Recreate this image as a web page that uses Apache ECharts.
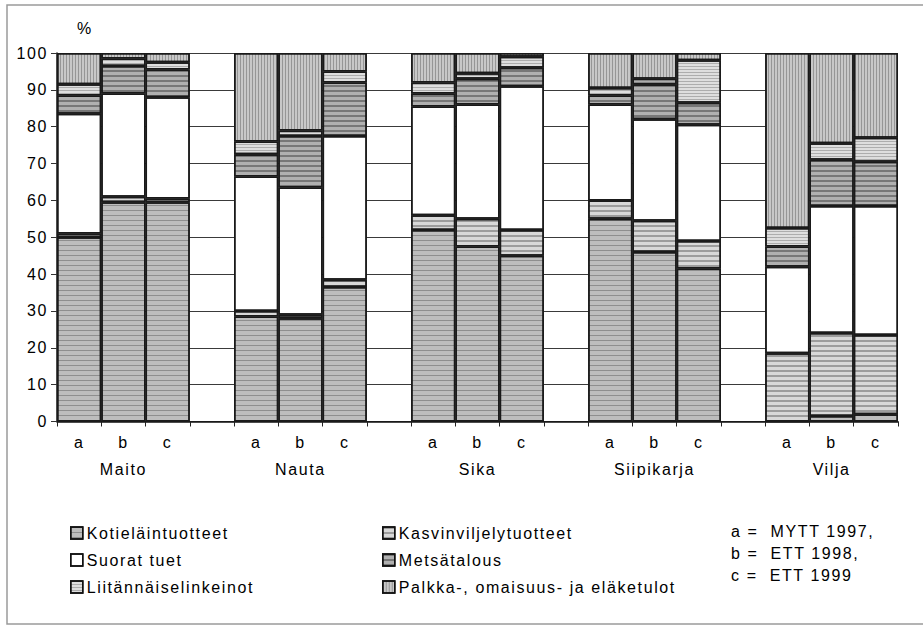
<!DOCTYPE html>
<html><head><meta charset="utf-8">
<script src="https://cdn.jsdelivr.net/npm/echarts@6/dist/echarts.min.js"></script>
<style>
html,body{margin:0;padding:0;background:#fff}
#c{width:923px;height:627px}
#c svg text{letter-spacing:1.6px}
</style></head><body><div id="c"></div>
<script>
// ---- data ----
const groups = ['Maito', 'Nauta', 'Sika', 'Siipikarja', 'Vilja'];
const subLabels = ['a', 'b', 'c'];
const yTicks = [0, 10, 20, 30, 40, 50, 60, 70, 80, 90, 100];
const seriesNames = ['Kotieläintuotteet', 'Kasvinviljelytuotteet', 'Suorat tuet', 'Metsätalous', 'Liitännäiselinkeinot', 'Palkka-, omaisuus- ja eläketulot'];
// order: Maito a,b,c | Nauta a,b,c | Sika a,b,c | Siipikarja a,b,c | Vilja a,b,c
const kotielain   = [50, 59.5, 59.5, 28.5, 28, 36.5, 52, 47.5, 45, 55, 46, 41.5, 0, 1.5, 2];
const kasvinviljely = [1, 1.5, 1, 1.5, 1, 2, 4, 7.5, 7, 5, 8.5, 7.5, 18.5, 22.5, 21.5];
const suoratTuet  = [32.5, 28, 27.5, 36.5, 34.5, 39, 29.5, 31, 39, 26, 27.5, 31.5, 23.5, 34.5, 35];
const metsatalous = [5, 7.5, 7.5, 6, 14, 14.5, 3.5, 7, 5, 2.5, 9.5, 6, 5.5, 12.5, 12];
const liitannais  = [3, 2, 2, 3.5, 1.5, 3, 3, 1.5, 3, 2, 1.5, 11.5, 5, 4.5, 6.5];
const palkka      = [8.5, 1.5, 2.5, 24, 21, 5, 8, 5.5, 1, 9.5, 7, 2, 47.5, 24.5, 23];
const keyLines = ['a =  MYTT 1997,', 'b =  ETT 1998,', 'c =  ETT 1999'];

// ---- build slots (3 bars + 1 empty slot per group) ----
const slotLabels = [], groupSlotLabels = [];
groups.forEach((g, gi) => {
  subLabels.forEach((s, k) => { slotLabels.push(s); groupSlotLabels.push(k === 1 ? g : ''); });
  if (gi < groups.length - 1) { slotLabels.push(' '); groupSlotLabels.push(' '); }
});
function toSlots(arr) {
  const out = [];
  groups.forEach((g, gi) => {
    for (let k = 0; k < 3; k++) out.push(arr[gi * 3 + k]);
    if (gi < groups.length - 1) out.push(null);
  });
  return out;
}
const allData = [kotielain, kasvinviljely, suoratTuet, metsatalous, liitannais, palkka];

const styles = [
  { color: '#bdbdbd', decal: { symbol: 'rect', symbolSize: 1, rotation: 0, dashArrayX: [1, 0], dashArrayY: [1, 4], color: 'rgba(0,0,0,0.25)' } },
  { color: '#d8d8d8', decal: { symbol: 'rect', symbolSize: 1, rotation: 0, dashArrayX: [1, 0], dashArrayY: [2, 3], color: 'rgba(0,0,0,0.28)' } },
  { color: '#ffffff', decal: { symbol: 'rect', symbolSize: 1, rotation: 0, dashArrayX: [1, 0], dashArrayY: [1, 0], color: 'rgba(255,255,255,0)' } },
  { color: '#b0b0b0', decal: { symbol: 'rect', symbolSize: 1, rotation: 0, dashArrayX: [1, 0], dashArrayY: [2, 3], color: 'rgba(0,0,0,0.32)' } },
  { color: '#dedede', decal: { symbol: 'rect', symbolSize: 1, rotation: 0, dashArrayX: [1, 0], dashArrayY: [1, 2], color: 'rgba(0,0,0,0.22)' } },
  { color: '#c8c8c8', decal: { symbol: 'rect', symbolSize: 1, rotation: 0, dashArrayX: [1, 2], dashArrayY: [1, 0], color: 'rgba(0,0,0,0.25)' } }
];

const FONT = '"Liberation Sans", Arial, sans-serif';
const TXT = '#000';
const chart = echarts.init(document.getElementById('c'), null, { renderer: 'svg' });
chart.setOption({
  animation: false,
  backgroundColor: '#fff',
  aria: { enabled: true, decal: { show: true } },
  textStyle: { fontFamily: FONT, color: TXT },
  grid: { left: 57, top: 53, width: 841, height: 368.5 },
  xAxis: [
    {
      type: 'category', data: slotLabels, boundaryGap: true,
      axisLine: { lineStyle: { color: '#111', width: 1.5 } },
      axisTick: { show: true, interval: 0, length: 5, lineStyle: { color: '#222' } },
      axisLabel: { interval: 0, margin: 13, fontSize: 16, color: TXT, fontFamily: FONT }
    },
    {
      type: 'category', data: groupSlotLabels, boundaryGap: true, position: 'bottom',
      axisLine: { show: false }, axisTick: { show: false },
      axisLabel: { interval: 0, margin: 40, fontSize: 16, color: TXT, fontFamily: FONT }
    }
  ],
  yAxis: {
    type: 'value', min: yTicks[0], max: yTicks[yTicks.length - 1], interval: 10,
    axisLine: { show: true, lineStyle: { color: '#111', width: 1.5 } },
    axisTick: { show: true, length: 6, lineStyle: { color: '#333' } },
    splitLine: { show: true, lineStyle: { color: '#3a3a3a', width: 1.2 } },
    axisLabel: { margin: 9, fontSize: 16, color: TXT, fontFamily: FONT }
  },
  legend: [
    {
      data: [seriesNames[0], seriesNames[2], seriesNames[4]],
      orient: 'vertical', left: 70, top: 525, padding: 0, itemGap: 11, itemWidth: 12, itemHeight: 12,
      icon: 'rect', selectedMode: false, itemStyle: { borderColor: '#111', borderWidth: 1.5 },
      textStyle: { fontSize: 16, color: TXT, fontFamily: FONT, padding: [0, 0, 0, -1] }
    },
    {
      data: [seriesNames[1], seriesNames[3], seriesNames[5]],
      orient: 'vertical', left: 382, top: 525, padding: 0, itemGap: 11, itemWidth: 12, itemHeight: 12,
      icon: 'rect', selectedMode: false, itemStyle: { borderColor: '#111', borderWidth: 1.5 },
      textStyle: { fontSize: 16, color: TXT, fontFamily: FONT, padding: [0, 0, 0, -1] }
    }
  ],
  graphic: [
    { type: 'rect', silent: true, shape: { x: 7, y: 5, width: 940, height: 619 },
      style: { fill: 'none', stroke: '#9a9a9a', lineWidth: 1.5 } },
    { type: 'text', x: 85, y: 28, style: { text: '%', font: '16px ' + FONT, fill: TXT, textAlign: 'center', textVerticalAlign: 'middle' } },
    ...keyLines.map((t, i) => ({
      type: 'text', x: 731, y: 531 + i * 22,
      style: { text: t, font: '16px ' + FONT, fill: TXT, textAlign: 'left', textVerticalAlign: 'middle' }
    }))
  ],
  series: allData.map((arr, i) => ({
    name: seriesNames[i], type: 'bar', stack: 'total', barWidth: '100%',
    xAxisIndex: 0,
    data: toSlots(arr),
    itemStyle: { color: styles[i].color, decal: styles[i].decal, borderColor: '#1a1a1a', borderWidth: 1.5 },
    emphasis: { disabled: true }
  }))
});
</script></body></html>
